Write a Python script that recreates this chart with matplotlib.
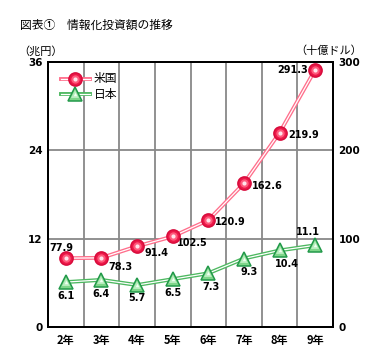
import matplotlib.pyplot as plt

plt.rcParams['font.family'] = ['Noto Sans CJK JP', 'DejaVu Sans']

years = ["2年", "3年", "4年", "5年", "6年", "7年", "8年", "9年"]
us = [77.9, 78.3, 91.4, 102.5, 120.9, 162.6, 219.9, 291.3]   # 十億ドル (right axis)
japan = [6.1, 6.4, 5.7, 6.5, 7.3, 9.3, 10.4, 11.1]           # 兆円 (left axis)

# label offsets in points (dx, dy, ha)
us_off = [(-3, 7, 'center'), (14, -6.5, 'center'), (14, -5, 'center'), (14, -5, 'center'),
          (5, -1.5, 'left'), (5.5, -2, 'left'), (6, -1.5, 'left'), (-5, 0, 'right')]
jp_off = [(0, -10, 'center'), (0, -10, 'center'), (0, -9.5, 'center'), (0, -10, 'center'),
          (2, -10, 'center'), (3.5, -10, 'center'), (5, -9.5, 'center'), (-5, 9.5, 'center')]

us_col = '#FF6F8C'
jp_col = '#4DB860'

fig = plt.figure(figsize=(3.82, 3.64), dpi=100)
ax = fig.add_axes([48/382, 1-327/364, 285/382, 265/364])
ax2 = ax.twinx()

x = list(range(len(years)))
ax.set_xlim(-0.5, len(years)-0.5)
ax.set_ylim(0, 36)
ax2.set_ylim(0, 300)

ax.set_xticks([i + 0.5 for i in x[:-1]], minor=True)
ax.grid(True, which='minor', axis='x', color='#888888', lw=1.3)
ax.set_yticks([0, 12, 24, 36])
ax.grid(True, which='major', axis='y', color='#888888', lw=1.3)
ax.set_xticks(x)
ax.set_xticklabels(years, fontsize=8, fontweight='bold')
ax.tick_params(axis='x', which='both', length=0, pad=5)
ax.tick_params(axis='y', length=0, labelsize=7.5, pad=4)
for t in ax.get_yticklabels():
    t.set_fontweight('bold')
    t.set_family('DejaVu Sans')
ax2.set_yticks([0, 100, 200, 300])
ax2.tick_params(axis='y', length=0, labelsize=7.5, pad=4)
for t in ax2.get_yticklabels():
    t.set_fontweight('bold')
    t.set_family('DejaVu Sans')
for a in (ax, ax2):
    for s in a.spines.values():
        s.set_linewidth(1.4)
        s.set_color('black')
ax.set_axisbelow(True)

# marker layers: (marker, size, face, edge)
jp_layers = [('^', 10, '#7FD68A', '#22994A'), ('^', 5.5, '#B8EDBE', 'none'), ('^', 2.5, '#F0FFF2', 'none')]
us_layers = [('o', 9.5, '#EC1848', '#D80C3C'), ('o', 6, '#FF5A7C', 'none'), ('o', 3, '#FFE4EA', 'none')]


def draw_series(a, xs, ys, col, layers, **kw):
    a.plot(xs, ys, color=col, lw=2.8, zorder=3, **kw)
    a.plot(xs, ys, color='white', lw=0.9, zorder=3, **kw)
    for k, (m, s, fc, ec) in enumerate(layers):
        a.plot(xs, ys, ls='none', marker=m, ms=s, mfc=fc, mec=ec, mew=1.1, zorder=4 + k, **kw)


# Japan series on left axis
draw_series(ax, x, japan, jp_col, jp_layers)
for i, v in enumerate(japan):
    dx, dy, ha = jp_off[i]
    ax.annotate(f"{v}", (x[i], v), xytext=(dx, dy), textcoords='offset points',
                ha=ha, va='center', fontsize=7, fontweight='bold', family='DejaVu Sans')

# US series on right axis
draw_series(ax2, x, us, us_col, us_layers)
for i, v in enumerate(us):
    dx, dy, ha = us_off[i]
    ax2.annotate(f"{v}", (x[i], v), xytext=(dx, dy), textcoords='offset points',
                 ha=ha, va='center', fontsize=7, fontweight='bold', family='DejaVu Sans')

# legend, drawn by hand in axes coordinates
for label, col, layers, ly in [("米国", us_col, us_layers, 0.936), ("日本", jp_col, jp_layers, 0.879)]:
    draw_series(ax2, [0.046, 0.147], [ly, ly], col, [], transform=ax2.transAxes, clip_on=False)
    for k, (m, s, fc, ec) in enumerate(layers):
        ax2.plot([0.095], [ly], ls='none', marker=m, ms=s, mfc=fc, mec=ec, mew=1.1,
                 zorder=4 + k, transform=ax2.transAxes)
    ax2.text(0.16, ly, label, transform=ax2.transAxes, fontsize=8.5, va='center', ha='left')

fig.text(20/382, 1-25/364, "図表①　情報化投資額の推移", fontsize=8.5, va='center', ha='left')
fig.text(18/382, 1-51/364, "（兆円）", fontsize=8, va='center', ha='left')
fig.text(362/382, 1-51/364, "（十億ドル）", fontsize=8, va='center', ha='right')

fig.savefig("out.png", dpi=100)
